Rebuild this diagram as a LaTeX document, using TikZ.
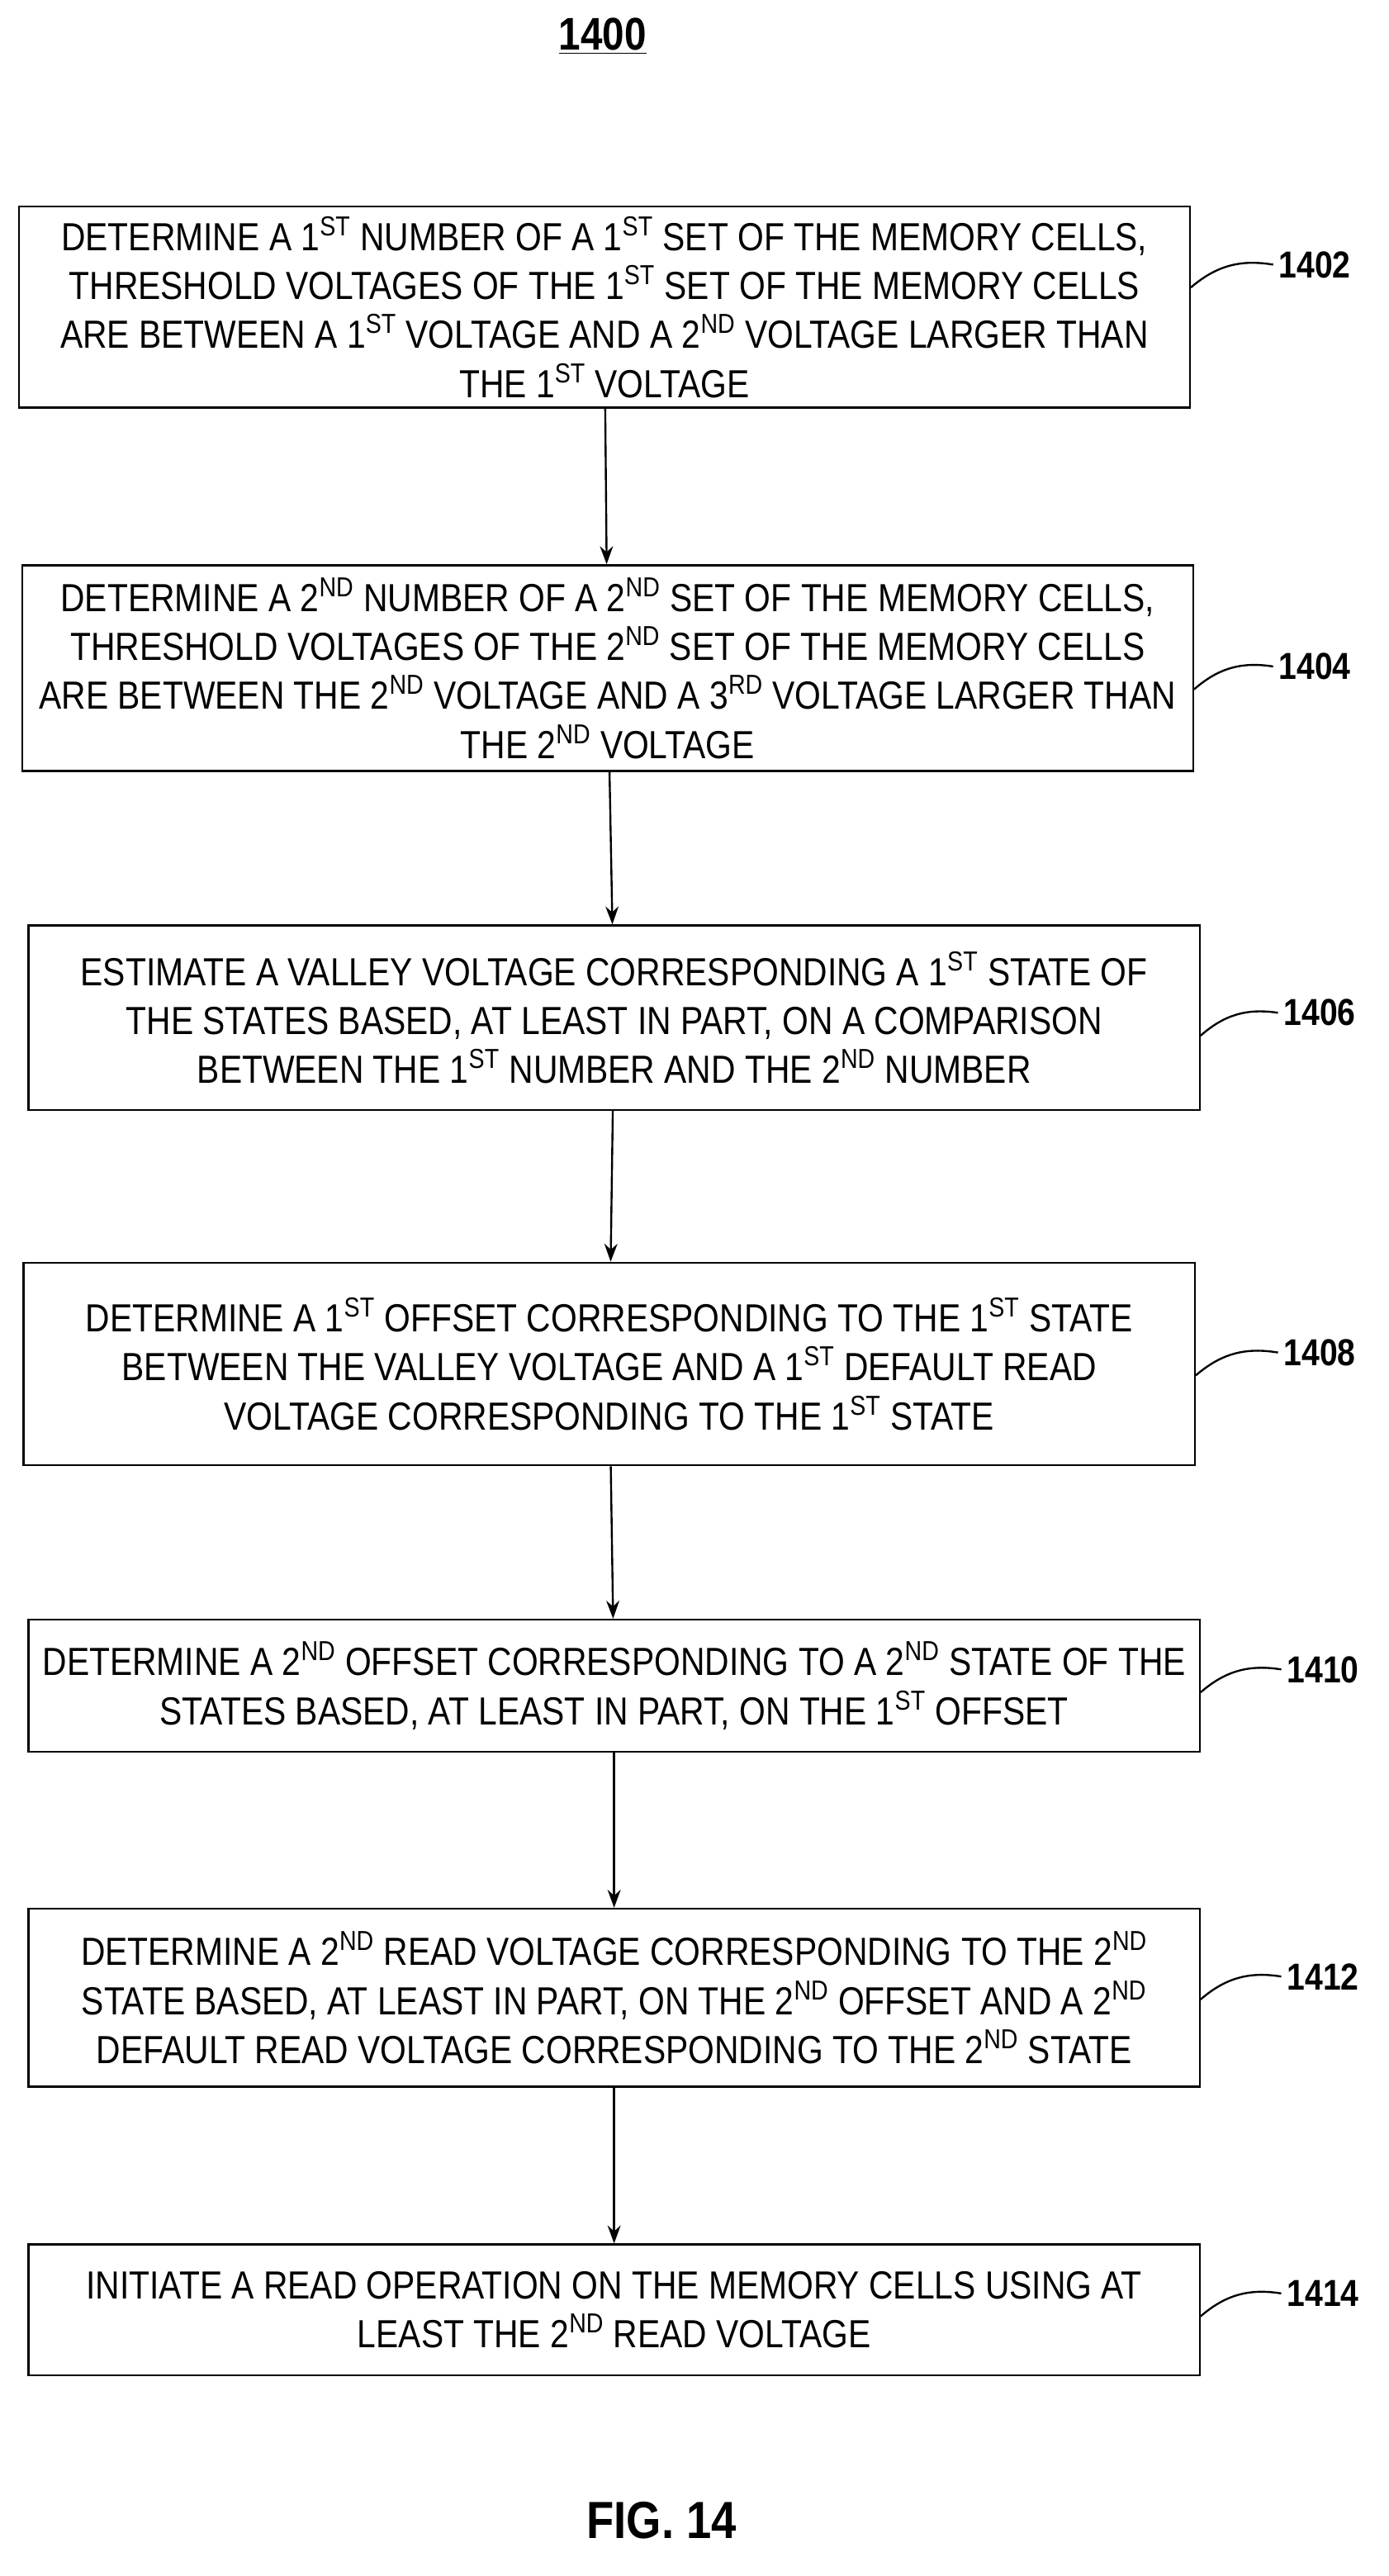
\documentclass[tikz,border=0pt]{standalone}
\usepackage{fontspec}
\setmainfont{Liberation Sans}[FakeStretch=0.86]
\usetikzlibrary{positioning}
\usetikzlibrary{arrows.meta}
\newcommand{\sfx}[1]{\textsuperscript{#1}}
\tikzset{
stepbox/.style={draw, line width=1.2pt, minimum width=717pt, align=center, inner sep=4pt, font=\fontsize{24}{30}\selectfont},
flow/.style={-{Stealth[length=11pt,width=8pt]}, line width=1.2pt},
tag/.style={font=\bfseries\fontsize{23}{26}\selectfont},
lead/.style={line width=1.2pt, bend right=25},
}
\begin{document}
\begin{tikzpicture}[x=1pt,y=-1pt]
\useasboundingbox (0,0) rectangle (850,1577);
\node[tag, font=\bfseries\fontsize{28}{30}\selectfont] (title) at (369,22) {\underline{1400}};
\node[stepbox, minimum height=123pt] (s1) at (370,188) {DETERMINE A 1\sfx{ST} NUMBER OF A 1\sfx{ST} SET OF THE MEMORY CELLS,\\THRESHOLD VOLTAGES OF THE 1\sfx{ST} SET OF THE MEMORY CELLS\\ARE BETWEEN A 1\sfx{ST} VOLTAGE AND A 2\sfx{ND} VOLTAGE LARGER THAN\\THE 1\sfx{ST} VOLTAGE};
\node[stepbox, minimum height=126pt] (s2) at (372,409) {DETERMINE A 2\sfx{ND} NUMBER OF A 2\sfx{ND} SET OF THE MEMORY CELLS,\\THRESHOLD VOLTAGES OF THE 2\sfx{ND} SET OF THE MEMORY CELLS\\ARE BETWEEN THE 2\sfx{ND} VOLTAGE AND A 3\sfx{RD} VOLTAGE LARGER THAN\\THE 2\sfx{ND} VOLTAGE};
\node[stepbox, minimum height=113pt] (s3) at (376,623) {ESTIMATE A VALLEY VOLTAGE CORRESPONDING A 1\sfx{ST} STATE OF\\THE STATES BASED, AT LEAST IN PART, ON A COMPARISON\\BETWEEN THE 1\sfx{ST} NUMBER AND THE 2\sfx{ND} NUMBER};
\node[stepbox, minimum height=124pt] (s4) at (373,835) {DETERMINE A 1\sfx{ST} OFFSET CORRESPONDING TO THE 1\sfx{ST} STATE\\BETWEEN THE VALLEY VOLTAGE AND A 1\sfx{ST} DEFAULT READ\\VOLTAGE CORRESPONDING TO THE 1\sfx{ST} STATE};
\node[stepbox, minimum height=81pt] (s5) at (376,1032) {DETERMINE A 2\sfx{ND} OFFSET CORRESPONDING TO A 2\sfx{ND} STATE OF THE\\STATES BASED, AT LEAST IN PART, ON THE 1\sfx{ST} OFFSET};
\node[stepbox, minimum height=109pt] (s6) at (376,1223) {DETERMINE A 2\sfx{ND} READ VOLTAGE CORRESPONDING TO THE 2\sfx{ND}\\STATE BASED, AT LEAST IN PART, ON THE 2\sfx{ND} OFFSET AND A 2\sfx{ND}\\DEFAULT READ VOLTAGE CORRESPONDING TO THE 2\sfx{ND} STATE};
\node[stepbox, minimum height=80pt] (s7) at (376,1414) {INITIATE A READ OPERATION ON THE MEMORY CELLS USING AT\\LEAST THE 2\sfx{ND} READ VOLTAGE};
\node[tag, font=\bfseries\fontsize{32}{34}\selectfont] (fig) at (405,1543) {FIG. 14};

% step labels
\node[tag] (t1) at (805,162) {1402};
\node[tag] (t2) at (805,408) {1404};
\node[tag] (t3) at (808,620) {1406};
\node[tag] (t4) at (808,828) {1408};
\node[tag] (t5) at (810,1022) {1410};
\node[tag] (t6) at (810,1210) {1412};
\node[tag] (t7) at (810,1404) {1414};
\foreach \i in {1,...,7}
  \draw[lead] (t\i.west) to ([yshift=-14pt]s\i.east |- t\i.west);

%
\draw[flow] (s1) -- (s2);
\draw[flow] (s2) -- (s3);
\draw[flow] (s3) -- (s4);
\draw[flow] (s4) -- (s5);
\draw[flow] (s5) -- (s6);
\draw[flow] (s6) -- (s7);
\end{tikzpicture}
\end{document}
